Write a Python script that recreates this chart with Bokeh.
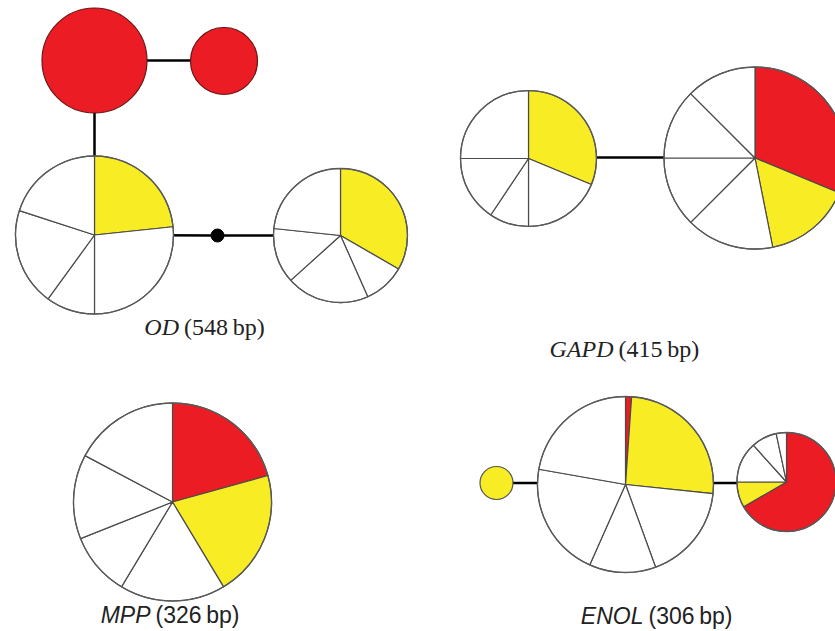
import math
from bokeh.plotting import figure
from bokeh.models import Range1d, ColumnDataSource
from bokeh.embed import file_html
from bokeh.resources import INLINE
from bokeh.core.properties import value

# ---------------- data ----------------
genes = ["OD", "GAPD", "MPP", "ENOL"]
lengths_bp = [548, 415, 326, 306]

# haplotype slice counts, clockwise from 12 o'clock, with population of each slice
od_h1_counts = [1];                 od_h1_pops = ["red"]
od_h2_counts = [1];                 od_h2_pops = ["red"]
od_h3_counts = [7, 8, 3, 6, 6];     od_h3_pops = ["yellow", "other", "other", "other", "other"]
od_h4_counts = [10, 3, 6, 4, 7];    od_h4_pops = ["yellow", "other", "other", "other", "other"]

gapd_h1_counts = [10, 6, 3, 5, 8];      gapd_h1_pops = ["yellow", "other", "other", "other", "other"]
gapd_h2_counts = [10, 5, 5, 4, 4, 4];   gapd_h2_pops = ["red", "yellow", "other", "other", "other", "other"]

mpp_h1_counts = [6, 6, 5, 3, 4, 5];     mpp_h1_pops = ["red", "yellow", "other", "other", "other", "other"]

enol_h1_counts = [1];                       enol_h1_pops = ["yellow"]
enol_h2_counts = [1, 23, 16, 11, 19, 20];   enol_h2_pops = ["red", "yellow", "other", "other", "other", "other"]
enol_h3_counts = [20, 2.5, 4, 2.5, 1];      enol_h3_pops = ["red", "yellow", "other", "other", "other"]

pop_colors = {"red": "#EC1C24", "yellow": "#F8EC24", "other": "#FFFFFF"}

# ---------------- layout (picture pixel coords, y downward) ----------------
W, H = 835, 631
def Y(y):
    return H - y

nodes = {
    "od1": (94, 60, 52.5, od_h1_counts, od_h1_pops),
    "od2": (223.5, 60.5, 33.5, od_h2_counts, od_h2_pops),
    "od3": (94, 234.5, 79, od_h3_counts, od_h3_pops),
    "od4": (340, 235, 67, od_h4_counts, od_h4_pops),
    "gapd1": (528, 158, 68, gapd_h1_counts, gapd_h1_pops),
    "gapd2": (754.5, 157.5, 91, gapd_h2_counts, gapd_h2_pops),
    "mpp1": (172, 501.5, 99, mpp_h1_counts, mpp_h1_pops),
    "enol1": (496, 482.5, 16.5, enol_h1_counts, enol_h1_pops),
    "enol2": (625, 484, 88, enol_h2_counts, enol_h2_pops),
    "enol3": (786, 481.5, 49.5, enol_h3_counts, enol_h3_pops),
}
mut_dot = (217, 235, 6.5)
edges = [((94, 60), (223.5, 60)), ((94, 60), (94, 234.5)),
         ((94, 234.5), (217, 235)), ((217, 235), (340, 235)),
         ((528, 157), (754.5, 157)),
         ((496, 482.5), (625, 482.5)), ((625, 482.5), (786, 482.5))]

p = figure(width=W, height=H, x_range=Range1d(0, W), y_range=Range1d(0, H),
           output_backend="svg", toolbar_location=None, min_border=0)
p.axis.visible = False
p.grid.visible = False
p.outline_line_color = None
p.background_fill_color = "white"

# edges
p.segment(x0=[e[0][0] for e in edges], y0=[Y(e[0][1]) for e in edges],
          x1=[e[1][0] for e in edges], y1=[Y(e[1][1]) for e in edges],
          line_color="black", line_width=2.5)
p.circle(x=[mut_dot[0]], y=[Y(mut_dot[1])], radius=mut_dot[2], fill_color="black", line_color="black")

# nodes
for key, (x, y, r, counts, pops) in nodes.items():
    if len(counts) == 1:
        edge_col = "#6a1515" if pops[0] == "red" else "#555555"
        p.circle(x=[x], y=[Y(y)], radius=r, fill_color=pop_colors[pops[0]],
                 line_color=edge_col, line_width=1.2)
        continue
    total = float(sum(counts))
    cum = 0.0
    starts, ends, cols = [], [], []
    for c, pop in zip(counts, pops):
        a0 = math.pi / 2 - 2 * math.pi * cum / total
        cum += c
        a1 = math.pi / 2 - 2 * math.pi * cum / total
        starts.append(a1)
        ends.append(a0)
        cols.append(pop_colors[pop])
    src = ColumnDataSource(dict(x=[x] * len(counts), y=[Y(y)] * len(counts),
                                s=starts, e=ends, c=cols))
    p.wedge(x="x", y="y", radius=r, start_angle="s", end_angle="e", source=src,
            fill_color="c", line_color="#4a4a4a", line_width=1.2)
    p.circle(x=[x], y=[Y(y)], radius=r, fill_color=None, line_color="#5a5a5a", line_width=1.3)

# labels: italic gene name + regular length
label_pos = {  # anchor x (end of gene name), baseline y, font, size
    "OD": (178.5, 326, "Liberation Serif", "24px"),
    "GAPD": (613, 348, "Liberation Serif", "24px"),
    "MPP": (150, 614, "Liberation Sans", "23px"),
    "ENOL": (643, 615, "Liberation Sans", "23px"),
}
for g, bp in zip(genes, lengths_bp):
    ax, by, font, fs = label_pos[g]
    p.text(x=[ax], y=[Y(by)], text=[g], text_font=value(font), text_font_style="italic",
           text_font_size=fs, text_align="right", text_baseline="alphabetic", text_color="#222222")
    p.text(x=[ax + 5], y=[Y(by)], text=["(%d\u2009bp)" % bp], text_font=value(font),
           text_font_size=fs, text_align="left", text_baseline="alphabetic", text_color="#222222")

open("out.html", "w").write(file_html(p, INLINE))
